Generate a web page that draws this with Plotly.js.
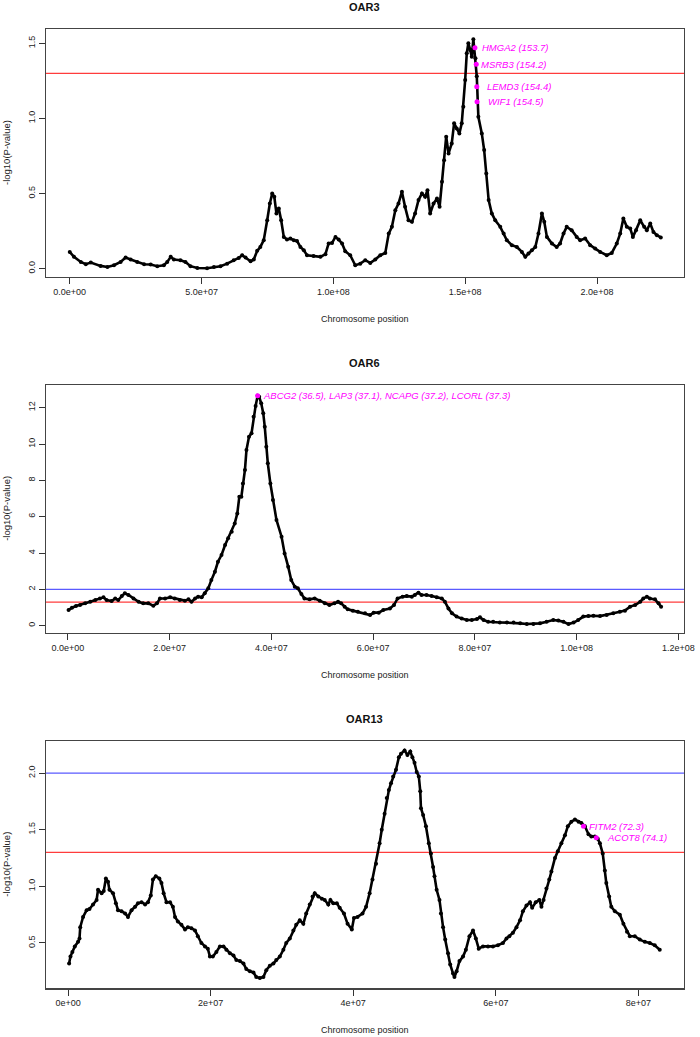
<!DOCTYPE html>
<html>
<head>
<meta charset="utf-8">
<script src="https://cdn.plot.ly/plotly-3.0.1.min.js"></script>
<style>html,body{margin:0;padding:0;background:#fff;}#chart{width:700px;height:1037px;}</style>
</head>
<body>
<div id="chart"></div>
<script>
// ---------------- DATA (positions in Mb, values = -log10(P)) ----------------
const panelTitles = ['OAR3', 'OAR6', 'OAR13'];

const oar3Pos = [0,1.6,4.2,6.1,8.0,11.7,14.3,16.8,19.3,21.2,23.1,25.6,28.2,30.7,33.2,35.7,37.0,38.3,39.5,42.0,43.9,45.8,48.4,52.1,54.7,57.2,59.7,62.2,64.1,65.4,66.7,68.6,69.8,71.1,72.3,73.6,74.9,75.9,76.8,77.6,78.4,79.3,80.2,81.2,82.4,83.7,85.0,86.2,87.5,88.8,90.0,92.5,95.1,97.0,98.2,99.5,100.8,102.0,103.3,104.5,106.4,108.3,110.2,112.1,114.0,115.9,117.8,119.7,121.0,122.2,123.5,124.7,126.0,127.2,128.5,129.8,131.0,132.3,133.6,134.8,135.7,136.7,138.0,139.3,140.3,141.2,142.0,142.8,143.7,144.9,145.8,146.8,147.8,148.7,149.3,150.0,150.6,151.2,151.9,152.5,153.1,153.9,154.4,155.0,156.3,157.2,158.0,158.9,160.1,161.4,163.3,164.6,165.8,167.7,169.6,171.5,172.8,174.0,175.3,176.6,177.8,179.1,180.0,181.0,182.9,184.7,186.0,187.3,188.5,190.4,192.3,193.6,195.5,197.4,199.3,201.2,203.7,205.6,207.5,208.8,210.0,211.3,212.6,213.6,214.8,216.4,217.9,218.9,220.2,221.4,222.7,224.2];
const oar3Val = [0.111,0.078,0.044,0.029,0.04,0.018,0.011,0.022,0.044,0.073,0.06,0.044,0.029,0.027,0.016,0.022,0.044,0.078,0.06,0.056,0.044,0.016,0.004,0.002,0.011,0.016,0.033,0.056,0.071,0.089,0.073,0.049,0.06,0.118,0.144,0.189,0.322,0.433,0.5,0.478,0.367,0.4,0.322,0.211,0.193,0.2,0.189,0.184,0.144,0.122,0.089,0.084,0.078,0.096,0.167,0.171,0.211,0.193,0.167,0.116,0.089,0.022,0.033,0.056,0.038,0.06,0.089,0.104,0.233,0.278,0.389,0.433,0.511,0.411,0.322,0.311,0.367,0.456,0.5,0.478,0.522,0.367,0.433,0.467,0.411,0.578,0.722,0.878,0.767,0.833,0.967,0.933,0.9,0.967,1.078,1.256,1.433,1.5,1.456,1.411,1.527,1.40,1.28,1.011,0.9,0.789,0.633,0.456,0.367,0.322,0.278,0.233,0.189,0.156,0.144,0.111,0.078,0.1,0.122,0.144,0.233,0.367,0.311,0.211,0.167,0.144,0.167,0.233,0.278,0.256,0.211,0.189,0.2,0.156,0.133,0.111,0.089,0.104,0.167,0.233,0.333,0.278,0.267,0.211,0.256,0.322,0.278,0.256,0.3,0.244,0.222,0.207];

const oar6Pos = [0.13,0.8,1.6,2.4,3.4,4.4,5.4,6.3,7.0,7.6,8.6,9.3,9.9,10.6,11.2,11.9,12.9,13.9,14.8,15.8,16.8,17.5,18.1,19.1,20.1,21.0,22.0,23.0,23.7,24.3,25.0,25.6,26.3,26.9,27.6,28.2,28.9,29.5,30.2,30.9,31.5,32.2,32.8,33.3,33.7,34.1,34.4,34.8,35.1,35.6,36.1,36.5,36.9,37.3,37.6,38.0,38.4,38.7,39.0,39.3,39.8,40.3,41.0,42.0,42.6,43.3,43.9,44.6,45.2,45.9,46.5,47.5,48.5,49.5,50.5,51.4,52.4,53.1,53.7,54.4,55.0,56.0,57.0,58.4,59.4,60.1,61.1,62.0,63.3,64.1,64.8,65.8,66.6,67.6,68.2,68.9,69.5,70.5,71.5,72.5,73.5,74.1,74.8,75.5,76.4,77.4,78.4,79.4,80.4,81.0,81.7,82.6,83.6,84.9,86.3,87.6,88.9,90.2,91.5,92.8,94.1,95.4,96.4,97.4,98.4,99.4,100.3,101.3,102.3,103.3,104.6,105.9,107.2,108.5,109.5,110.5,111.5,112.5,113.1,113.8,114.4,115.4,116.1,116.6];
const oar6Val = [0.86,0.99,1.08,1.14,1.23,1.32,1.41,1.5,1.56,1.41,1.36,1.5,1.41,1.63,1.78,1.69,1.5,1.32,1.23,1.23,1.1,1.23,1.5,1.5,1.56,1.5,1.41,1.38,1.45,1.32,1.5,1.6,1.56,1.78,2.06,2.51,2.97,3.52,3.89,4.44,4.81,5.17,5.63,6.18,7.1,7.1,7.83,8.57,9.67,10.4,10.6,11.5,12.1,12.66,12.6,12.24,11.7,10.95,9.85,8.94,7.83,6.92,5.82,4.9,3.98,3.25,2.51,2.15,2.06,1.74,1.5,1.45,1.5,1.38,1.23,1.14,1.23,1.32,1.23,1.05,0.9,0.83,0.77,0.68,0.59,0.72,0.72,0.86,0.95,1.14,1.5,1.6,1.63,1.6,1.69,1.82,1.69,1.69,1.63,1.56,1.5,1.32,0.95,0.68,0.5,0.4,0.31,0.31,0.37,0.46,0.31,0.22,0.22,0.18,0.17,0.17,0.13,0.09,0.09,0.13,0.22,0.31,0.28,0.22,0.09,0.17,0.31,0.5,0.53,0.55,0.53,0.59,0.68,0.77,0.83,1.05,1.14,1.32,1.5,1.6,1.5,1.45,1.23,1.05];

const oar13Pos = [0.14,0.33,0.6,0.94,1.4,1.6,1.7,2.1,2.6,3.0,3.5,4.0,4.2,4.7,5.0,5.3,5.6,5.8,6.3,6.7,7.0,7.5,8.0,8.4,8.9,9.4,9.8,10.3,10.8,11.2,11.6,11.9,12.3,12.8,13.1,13.4,13.8,14.3,14.7,15.0,15.4,15.9,16.4,16.8,17.3,17.8,18.2,18.7,19.2,19.6,19.9,20.3,20.8,21.3,21.8,22.2,22.7,23.2,23.6,24.1,24.6,25.0,25.5,26.0,26.4,26.9,27.4,27.8,28.3,28.8,29.2,29.7,30.2,30.6,31.1,31.6,32.0,32.5,33.0,33.4,33.9,34.3,34.6,35.1,35.6,36.0,36.5,36.8,37.2,37.7,38.1,38.7,39.2,39.8,40.1,40.6,41.3,41.8,42.3,42.7,43.2,43.7,44.0,44.4,44.7,45.0,45.3,45.6,46.0,46.4,46.7,47.2,47.6,48.0,48.3,48.6,48.9,49.2,49.4,49.5,49.8,50.2,50.6,50.9,51.2,51.4,51.7,52.1,52.3,52.6,52.9,53.3,53.6,54.0,54.2,54.5,54.9,55.4,55.8,56.3,56.8,57.2,57.6,58.2,58.9,59.6,60.3,61.0,61.5,61.9,62.4,62.9,63.4,63.8,64.3,64.8,65.1,65.6,66.1,66.4,66.7,67.1,67.5,67.8,68.3,68.7,69.2,69.7,70.1,70.6,71.1,71.6,72.0,72.5,73.0,73.4,73.9,74.3,74.6,75.0,75.3,75.5,75.9,76.2,76.7,77.4,77.9,78.4,78.8,79.5,80.2,80.9,81.6,82.3,83.0];
const oar13Val = [0.32,0.38,0.42,0.47,0.51,0.54,0.64,0.73,0.79,0.80,0.84,0.88,0.97,0.94,0.96,1.07,1.04,0.97,0.94,0.85,0.79,0.78,0.76,0.73,0.79,0.82,0.85,0.86,0.84,0.86,0.92,1.06,1.09,1.07,1.03,0.94,0.86,0.86,0.82,0.73,0.69,0.66,0.62,0.64,0.63,0.61,0.56,0.50,0.47,0.45,0.38,0.38,0.42,0.47,0.47,0.44,0.41,0.39,0.35,0.34,0.32,0.27,0.25,0.24,0.20,0.19,0.20,0.26,0.30,0.32,0.35,0.38,0.44,0.50,0.54,0.61,0.66,0.70,0.67,0.76,0.84,0.91,0.94,0.91,0.89,0.88,0.84,0.88,0.85,0.85,0.81,0.76,0.67,0.62,0.72,0.73,0.76,0.82,0.94,1.06,1.20,1.38,1.50,1.64,1.78,1.85,1.91,1.97,2.03,2.14,2.17,2.20,2.16,2.19,2.14,2.09,2.01,1.97,1.84,1.69,1.63,1.53,1.38,1.29,1.17,1.09,0.97,0.88,0.76,0.64,0.53,0.41,0.31,0.23,0.20,0.25,0.34,0.38,0.44,0.56,0.61,0.54,0.45,0.47,0.47,0.47,0.48,0.50,0.54,0.56,0.59,0.64,0.70,0.78,0.83,0.86,0.81,0.86,0.88,0.82,0.88,0.98,1.06,1.13,1.25,1.31,1.38,1.45,1.53,1.57,1.59,1.57,1.56,1.53,1.46,1.44,1.44,1.42,1.38,1.29,1.14,1.03,0.91,0.82,0.78,0.75,0.67,0.60,0.56,0.56,0.53,0.51,0.50,0.48,0.44];

// highlighted genes
const oar3Genes = ['HMGA2 (153.7)', 'MSRB3 (154.2)', 'LEMD3 (154.4)', 'WIF1 (154.5)'];
const oar3GenePos = [153.7, 154.2, 154.4, 154.5];
const oar3GeneVal = [1.47, 1.36, 1.21, 1.11];
const oar6Genes = ['ABCG2 (36.5), LAP3 (37.1), NCAPG (37.2), LCORL (37.3)'];
const oar6GenePos = [37.3];
const oar6GeneVal = [12.66];
const oar13Genes = ['FITM2 (72.3)', 'ACOT8 (74.1)'];
const oar13GenePos = [72.3, 74.1];
const oar13GeneVal = [1.53, 1.43];

// significance thresholds
const redThreshold = 1.3;   // -log10(0.05)
const blueThreshold = 2.0;  // -log10(0.01)

// tick labels
const oar3XTicks = [0, 5e7, 1e8, 1.5e8, 2e8];
const oar3XLabels = ['0.0e+00', '5.0e+07', '1.0e+08', '1.5e+08', '2.0e+08'];
const oar3YTicks = [0, 0.5, 1.0, 1.5];
const oar3YLabels = ['0.0', '0.5', '1.0', '1.5'];
const oar6XTicks = [0, 2e7, 4e7, 6e7, 8e7, 1e8, 1.2e8];
const oar6XLabels = ['0.0e+00', '2.0e+07', '4.0e+07', '6.0e+07', '8.0e+07', '1.0e+08', '1.2e+08'];
const oar6YTicks = [0, 2, 4, 6, 8, 10, 12];
const oar6YLabels = ['0', '2', '4', '6', '8', '10', '12'];
const oar13XTicks = [0, 2e7, 4e7, 6e7, 8e7];
const oar13XLabels = ['0e+00', '2e+07', '4e+07', '6e+07', '8e+07'];
const oar13YTicks = [0.5, 1.0, 1.5, 2.0];
const oar13YLabels = ['0.5', '1.0', '1.5', '2.0'];

const xTitle = 'Chromosome position';
const yTitle = '-log10(P-value)';

// ---------------- BUILD ----------------
const W = 700, H = 1037;
const toBp = a => a.map(v => v * 1e6);
const py = y => 1 - y / H;   // pixel-from-top -> paper fraction
const FONT = 'Liberation Sans, Arial, Helvetica, sans-serif';
const MAGENTA = '#ff00ff';

const boxes = [ // pixel boxes of each panel: top, bottom
  {top: 29, bottom: 277},
  {top: 385, bottom: 632.7},
  {top: 741, bottom: 988.3}
];
const xDom = [46 / W, 684 / W];

function mainTrace(pos, val, n) {
  const s = n === 1 ? '' : String(n);
  return {
    x: toBp(pos), y: val, xaxis: 'x' + s, yaxis: 'y' + s,
    type: 'scatter', mode: 'lines+markers',
    line: {color: 'black', width: 2.6},
    marker: {color: 'black', size: 4, symbol: 'circle'},
    hoverinfo: 'x+y'
  };
}
function geneTrace(pos, val, n) {
  const s = n === 1 ? '' : String(n);
  return {
    x: toBp(pos), y: val, xaxis: 'x' + s, yaxis: 'y' + s,
    type: 'scatter', mode: 'markers',
    marker: {color: MAGENTA, size: 5, symbol: 'circle'},
    hoverinfo: 'x+y'
  };
}

const data = [
  mainTrace(oar3Pos, oar3Val, 1), geneTrace(oar3GenePos, oar3GeneVal, 1),
  mainTrace(oar6Pos, oar6Val, 2), geneTrace(oar6GenePos, oar6GeneVal, 2),
  mainTrace(oar13Pos, oar13Val, 3), geneTrace(oar13GenePos, oar13GeneVal, 3)
];

function xAxis(n, range, tv, tt) {
  return {
    domain: xDom, anchor: n === 1 ? 'y' : 'y' + n, range: range,
    tickmode: 'array', tickvals: tv, ticktext: tt,
    ticks: 'outside', ticklen: 6, tickwidth: 1, tickcolor: '#333',
    showline: true, mirror: true, linecolor: '#444', linewidth: 1.2,
    showgrid: false, zeroline: false,
    tickfont: {family: FONT, size: 9, color: '#222'}
  };
}
function yAxis(n, box, range, tv, tt) {
  return {
    domain: [py(box.bottom), py(box.top)], anchor: n === 1 ? 'x' : 'x' + n, range: range,
    tickmode: 'array', tickvals: tv, ticktext: tt, tickangle: -90,
    ticks: 'outside', ticklen: 6, tickwidth: 1, tickcolor: '#333',
    showline: true, mirror: true, linecolor: '#444', linewidth: 1.2,
    showgrid: false, zeroline: false,
    tickfont: {family: FONT, size: 9, color: '#222'}
  };
}

const annotations = [];
panelTitles.forEach((t, i) => {
  annotations.push({text: '<b>' + t + '</b>', xref: 'paper', yref: 'paper',
    x: (xDom[0] + xDom[1]) / 2, y: py(boxes[i].top - 22), xanchor: 'center', yanchor: 'middle',
    showarrow: false, font: {family: FONT, size: 11, color: '#111'}});
  annotations.push({text: xTitle, xref: 'paper', yref: 'paper',
    x: (xDom[0] + xDom[1]) / 2, y: py(boxes[i].bottom + 42), xanchor: 'center', yanchor: 'middle',
    showarrow: false, font: {family: FONT, size: 9, color: '#222'}});
  annotations.push({text: yTitle, xref: 'paper', yref: 'paper', textangle: -90,
    x: 7 / W, y: py((boxes[i].top + boxes[i].bottom) / 2), xanchor: 'center', yanchor: 'middle',
    showarrow: false, font: {family: FONT, size: 9.5, color: '#222'}});
});
function geneLabels(names, pos, val, n, shifts) {
  const s = n === 1 ? '' : String(n);
  names.forEach((nm, i) => {
    annotations.push({text: '<i>' + nm + '</i>', xref: 'x' + s, yref: 'y' + s,
      x: pos[i] * 1e6, y: val[i], xanchor: 'left', yanchor: 'middle', xshift: shifts[i],
      showarrow: false, font: {family: FONT, size: 9.5, color: MAGENTA}});
  });
}
geneLabels(oar3Genes, oar3GenePos, oar3GeneVal, 1, [5, 3, 8, 9]);
geneLabels(oar6Genes, oar6GenePos, oar6GeneVal, 2, [3]);
geneLabels(oar13Genes, oar13GenePos, oar13GeneVal, 3, [4, 9]);

function hline(n, yv, color) {
  const s = n === 1 ? '' : String(n);
  return {type: 'line', xref: 'x' + s + ' domain', yref: 'y' + s, x0: 0, x1: 1, y0: yv, y1: yv,
    line: {color: color, width: 1.3}, layer: 'below'};
}
const RED = 'rgb(255,60,60)', BLUE = 'rgb(90,90,255)';
const shapes = [
  hline(1, redThreshold, RED),
  hline(2, blueThreshold, BLUE), hline(2, redThreshold, RED),
  hline(3, blueThreshold, BLUE), hline(3, redThreshold, RED)
];

const layout = {
  width: W, height: H, margin: {l: 0, r: 0, t: 0, b: 0},
  paper_bgcolor: 'white', plot_bgcolor: 'white', showlegend: false,
  font: {family: FONT, size: 9, color: '#222'},
  xaxis: xAxis(1, [-0.9e7, 2.33e8], oar3XTicks, oar3XLabels),
  yaxis: yAxis(1, boxes[0], [-0.056, 1.595], oar3YTicks, oar3YLabels),
  xaxis2: xAxis(2, [-0.43e7, 1.211e8], oar6XTicks, oar6XLabels),
  yaxis2: yAxis(2, boxes[1], [-0.385, 13.25], oar6YTicks, oar6YLabels),
  xaxis3: xAxis(3, [-0.31e7, 8.64e7], oar13XTicks, oar13XLabels),
  yaxis3: yAxis(3, boxes[2], [0.1, 2.283], oar13YTicks, oar13YLabels),
  annotations: annotations, shapes: shapes
};

Plotly.newPlot('chart', data, layout, {staticPlot: true, displayModeBar: false});
</script>
</body>
</html>
